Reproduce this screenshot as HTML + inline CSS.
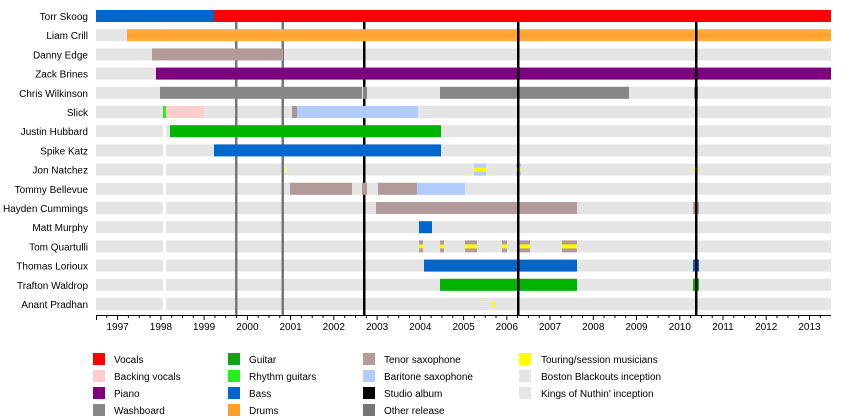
<!DOCTYPE html>
<html><head><meta charset="utf-8"><style>
html,body{margin:0;padding:0;background:#fff;}
svg{display:block;font-family:"Liberation Sans",sans-serif;}
</style></head><body>
<svg width="850" height="420" viewBox="0 0 850 420" xmlns="http://www.w3.org/2000/svg">
<defs>
<linearGradient id="dr" x1="0" y1="0" x2="0" y2="1"><stop offset="0" stop-color="#ffb04a"/><stop offset="0.5" stop-color="#ff9f2a"/><stop offset="1" stop-color="#ffb04a"/></linearGradient>
</defs>
<g fill="#e5e5e5">
<rect x="96" y="29.2" width="735" height="12"/>
<rect x="96" y="48.4" width="735" height="12"/>
<rect x="96" y="67.6" width="735" height="12"/>
<rect x="96" y="86.8" width="735" height="12"/>
<rect x="96" y="106" width="735" height="12"/>
<rect x="96" y="125.2" width="735" height="12"/>
<rect x="96" y="144.4" width="735" height="12"/>
<rect x="96" y="163.6" width="735" height="12"/>
<rect x="96" y="182.8" width="735" height="12"/>
<rect x="96" y="202" width="735" height="12"/>
<rect x="96" y="221.2" width="735" height="12"/>
<rect x="96" y="240.4" width="735" height="12"/>
<rect x="96" y="259.6" width="735" height="12"/>
<rect x="96" y="278.8" width="735" height="12"/>
<rect x="96" y="298" width="735" height="12"/>
</g>
<rect x="163" y="22" width="3" height="293" fill="#fff"/>
<rect x="235" y="22" width="2.5" height="293" fill="#777"/>
<rect x="281.5" y="22" width="2.5" height="293" fill="#777"/>
<rect x="363" y="22" width="2.5" height="293" fill="#000"/>
<rect x="96" y="10" width="118" height="12" fill="#0066cc"/>
<rect x="214" y="10" width="617" height="12" fill="#ff0000"/>
<rect x="127" y="29.2" width="704" height="12" fill="url(#dr)"/>
<rect x="152" y="48.4" width="131" height="12" fill="#b39b9b"/>
<rect x="156" y="67.6" width="675" height="12" fill="#7f007f"/>
<rect x="160" y="86.8" width="202" height="12" fill="#878787"/>
<rect x="363" y="86.8" width="4" height="12" fill="#878787"/>
<rect x="440" y="86.8" width="189" height="12" fill="#878787"/>
<rect x="694" y="86.8" width="4" height="12" fill="#878787"/>
<rect x="163" y="106" width="3" height="12" fill="#22ee22"/>
<rect x="166" y="106" width="38" height="12" fill="#ffcccc"/>
<rect x="292" y="106" width="5" height="12" fill="#a89494"/>
<rect x="297" y="106" width="121" height="12" fill="#b3ccff"/>
<rect x="170" y="125.2" width="271" height="12" fill="#00b300"/>
<rect x="214" y="144.4" width="227" height="12" fill="#0066cc"/>
<rect x="285" y="166.6" width="2" height="6" fill="#ffff66"/>
<rect x="474" y="163.6" width="12" height="12" fill="#b3ccff"/>
<rect x="474" y="167.6" width="12" height="4" fill="#ffff00"/>
<rect x="516" y="163.6" width="5" height="12" fill="#b3ccff"/>
<rect x="516" y="167.6" width="5" height="4" fill="#ffff00"/>
<rect x="693" y="167.6" width="6" height="4" fill="#ffff00"/>
<rect x="290" y="182.8" width="62" height="12" fill="#b39b9b"/>
<rect x="362" y="182.8" width="5" height="12" fill="#b39b9b"/>
<rect x="378" y="182.8" width="39" height="12" fill="#b39b9b"/>
<rect x="417" y="182.8" width="48" height="12" fill="#b3ccff"/>
<rect x="376" y="202" width="201" height="12" fill="#b39b9b"/>
<rect x="693" y="202" width="6" height="12" fill="#b39b9b"/>
<rect x="419" y="221.2" width="13" height="12" fill="#0066cc"/>
<g fill="#b39b9b">
<rect x="419" y="240.4" width="4" height="12"/>
<rect x="440" y="240.4" width="4" height="12"/>
<rect x="465" y="240.4" width="12" height="12"/>
<rect x="502" y="240.4" width="5" height="12"/>
<rect x="518" y="240.4" width="12" height="12"/>
<rect x="562" y="240.4" width="15" height="12"/>
</g>
<g fill="#ffff00">
<rect x="419" y="244.4" width="4" height="4"/>
<rect x="440" y="244.4" width="4" height="4"/>
<rect x="465" y="244.4" width="12" height="4"/>
<rect x="502" y="244.4" width="5" height="4"/>
<rect x="518" y="244.4" width="12" height="4"/>
<rect x="562" y="244.4" width="15" height="4"/>
</g>
<rect x="424" y="259.6" width="153" height="12" fill="#0066cc"/>
<rect x="693" y="259.6" width="6" height="12" fill="#0066cc"/>
<rect x="440" y="278.8" width="137" height="12" fill="#00b300"/>
<rect x="693" y="278.8" width="6" height="12" fill="#00b300"/>
<rect x="492" y="301" width="3" height="6" fill="#ffff00"/>
<rect x="517" y="22" width="2.5" height="293" fill="#000"/>
<rect x="695" y="22" width="2.5" height="293" fill="#000"/>
<g font-size="10" text-anchor="end" fill="#000">
<text x="88" y="20">Torr Skoog</text>
<text x="88" y="39.2">Liam Crill</text>
<text x="88" y="58.4">Danny Edge</text>
<text x="88" y="77.6">Zack Brines</text>
<text x="88" y="96.8">Chris Wilkinson</text>
<text x="88" y="116">Slick</text>
<text x="88" y="135.2">Justin Hubbard</text>
<text x="88" y="154.4">Spike Katz</text>
<text x="88" y="173.6">Jon Natchez</text>
<text x="88" y="192.8">Tommy Bellevue</text>
<text x="88" y="212">Hayden Cummings</text>
<text x="88" y="231.2">Matt Murphy</text>
<text x="88" y="250.4">Tom Quartulli</text>
<text x="88" y="269.6">Thomas Lorioux</text>
<text x="88" y="288.8">Trafton Waldrop</text>
<text x="88" y="308">Anant Pradhan</text>
</g>
<line x1="96" y1="315.5" x2="831" y2="315.5" stroke="#000" stroke-width="1"/>
<line x1="96.5" y1="315" x2="96.5" y2="320" stroke="#000" stroke-width="1"/>
<g font-size="10">
<rect x="93" y="353" width="12" height="12" fill="#ff0000"/><text x="114" y="363">Vocals</text>
<rect x="93" y="370" width="12" height="12" fill="#ffcccc"/><text x="114" y="380">Backing vocals</text>
<rect x="93" y="387" width="12" height="12" fill="#7f007f"/><text x="114" y="397">Piano</text>
<rect x="93" y="404" width="12" height="12" fill="#878787"/><text x="114" y="414">Washboard</text>
<rect x="228" y="353" width="12" height="12" fill="#1a9f1a"/><text x="249" y="363">Guitar</text>
<rect x="228" y="370" width="12" height="12" fill="#22ee22"/><text x="249" y="380">Rhythm guitars</text>
<rect x="228" y="387" width="12" height="12" fill="#0066cc"/><text x="249" y="397">Bass</text>
<rect x="228" y="404" width="12" height="12" fill="#ff9f2a"/><text x="249" y="414">Drums</text>
<rect x="363" y="353" width="12" height="12" fill="#b39b9b"/><text x="384" y="363">Tenor saxophone</text>
<rect x="363" y="370" width="12" height="12" fill="#b3ccff"/><text x="384" y="380">Baritone saxophone</text>
<rect x="363" y="387" width="12" height="12" fill="#000"/><text x="384" y="397">Studio album</text>
<rect x="363" y="404" width="12" height="12" fill="#777"/><text x="384" y="414">Other release</text>
<rect x="519" y="353" width="12" height="12" fill="#ffff00"/><text x="541" y="363">Touring/session musicians</text>
<rect x="519" y="370" width="12" height="12" fill="#e5e5e5"/><text x="541" y="380">Boston Blackouts inception</text>
<rect x="519" y="387" width="12" height="12" fill="#e5e5e5"/><text x="541" y="397">Kings of Nuthin' inception</text>
</g>
<g stroke="#000" stroke-width="1">
<path d="M117.6 315v5M160.9 315v5M204.1 315v5M247.4 315v5M290.6 315v5M333.8 315v5M377.1 315v5M420.3 315v5M463.6 315v5M506.8 315v5M550.0 315v5M593.3 315v5M636.5 315v5M679.8 315v5M723.0 315v5M766.2 315v5M809.5 315v5"/>
<path d="M106.8 315v3M128.4 315v3M139.2 315v3M150.1 315v3M171.7 315v3M182.5 315v3M193.3 315v3M214.9 315v3M225.7 315v3M236.6 315v3M258.2 315v3M269.0 315v3M279.8 315v3M301.4 315v3M312.2 315v3M323.0 315v3M344.7 315v3M355.5 315v3M366.3 315v3M387.9 315v3M398.7 315v3M409.5 315v3M431.1 315v3M441.9 315v3M452.8 315v3M474.4 315v3M485.2 315v3M496.0 315v3M517.6 315v3M528.4 315v3M539.2 315v3M560.8 315v3M571.7 315v3M582.5 315v3M604.1 315v3M614.9 315v3M625.7 315v3M647.3 315v3M658.1 315v3M669.0 315v3M690.6 315v3M701.4 315v3M712.2 315v3M733.8 315v3M744.6 315v3M755.4 315v3M777.0 315v3M787.9 315v3M798.7 315v3M820.3 315v3"/>
</g>
<g font-size="10" text-anchor="middle">
<text x="117.6" y="330">1997</text><text x="160.9" y="330">1998</text><text x="204.1" y="330">1999</text><text x="247.4" y="330">2000</text><text x="290.6" y="330">2001</text><text x="333.8" y="330">2002</text><text x="377.1" y="330">2003</text><text x="420.3" y="330">2004</text><text x="463.6" y="330">2005</text><text x="506.8" y="330">2006</text><text x="550.0" y="330">2007</text><text x="593.3" y="330">2008</text><text x="636.5" y="330">2009</text><text x="679.8" y="330">2010</text><text x="723.0" y="330">2011</text><text x="766.2" y="330">2012</text><text x="809.5" y="330">2013</text>
</g>
</svg>
</body></html>
